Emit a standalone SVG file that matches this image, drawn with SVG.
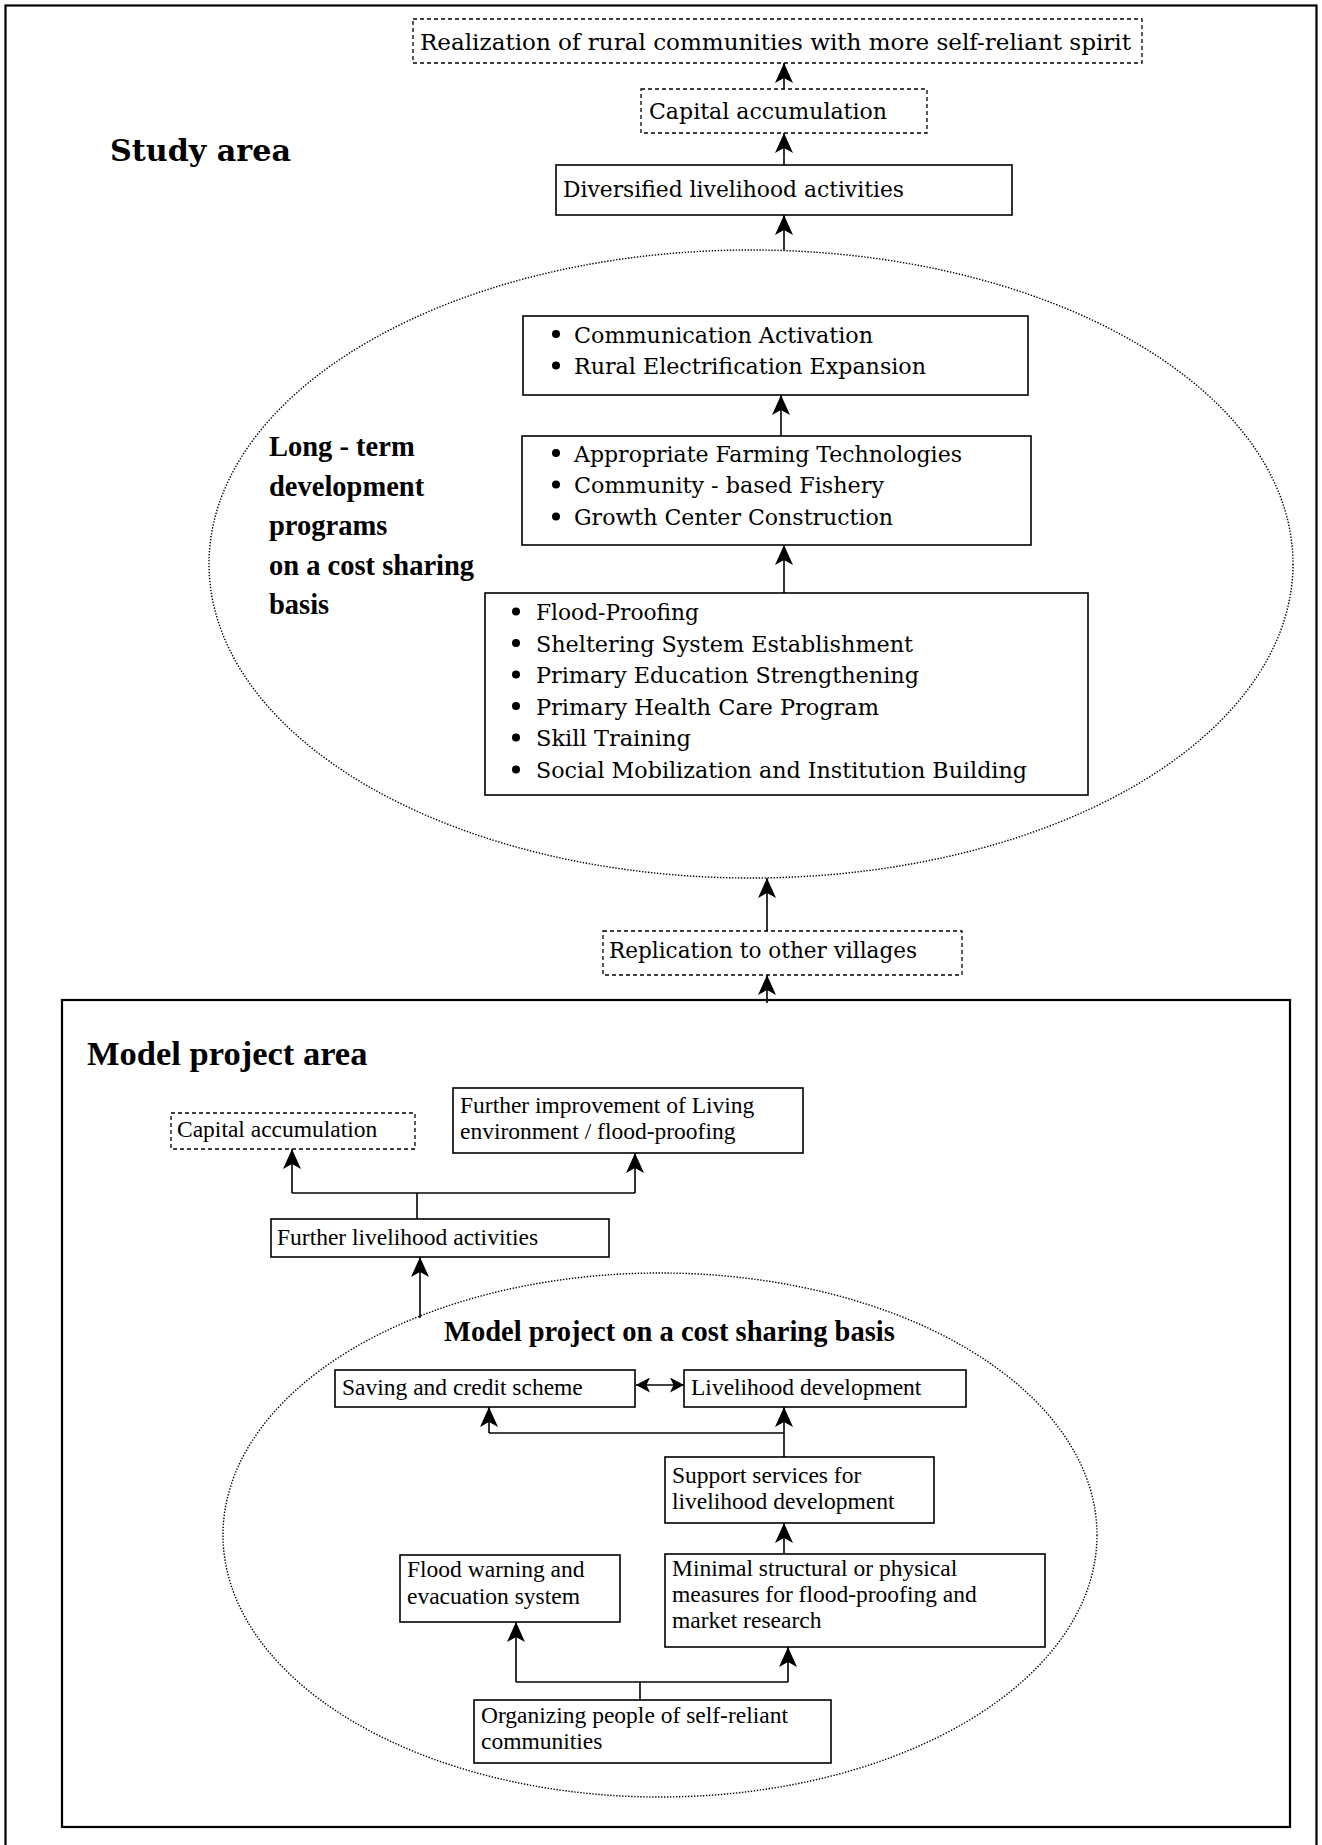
<svg xmlns="http://www.w3.org/2000/svg" width="1322" height="1845" viewBox="0 0 1322 1845">
  <style>
    .frame { fill: none; stroke: #000; stroke-width: 2.2; }
    .box { fill: #fff; stroke: #000; stroke-width: 1.6; }
    .dash { fill: #fff; stroke: #000; stroke-width: 1.3; stroke-dasharray: 4 3; }
    .dots { fill: none; stroke: #000; stroke-width: 1.4; stroke-dasharray: 1.4 1.6; }
    .t1 { font-family: "DejaVu Serif", "Liberation Serif", serif; font-size: 22px; fill: #000; }
    .t2 { font-family: "Liberation Serif", "Times New Roman", serif; font-size: 23.5px; fill: #000; }
    .b { font-family: "Liberation Serif", "Times New Roman", serif; font-weight: bold; font-size: 28.5px; fill: #000; }
    .link { fill: none; stroke: #000; stroke-width: 1.6; }
    .bullet { fill: #000; }
  </style>
  <defs>
    <marker id="head" markerUnits="userSpaceOnUse" viewBox="0 0 20 18" refX="20" refY="9" markerWidth="20" markerHeight="18" orient="auto">
      <path d="M20,9 L0,0 L5,9 L0,18 Z" fill="#000"/>
    </marker>
    <marker id="headSmall" markerUnits="userSpaceOnUse" viewBox="0 0 14 15" refX="14" refY="7.5" markerWidth="14" markerHeight="15" orient="auto-start-reverse">
      <path d="M14,7.5 L0,0 L3.5,7.5 L0,15 Z" fill="#000"/>
    </marker>
  </defs>

  <rect width="1322" height="1845" fill="#fff"/>

  <!-- outer study-area frame (runs past the bottom edge) -->
  <rect class="frame" x="5.5" y="5.5" width="1311" height="1860"/>

  <g id="study-area-label">
    <text x="110" y="160.5" font-family="DejaVu Serif, Liberation Serif, serif" font-weight="bold" font-size="29" textLength="181" lengthAdjust="spacingAndGlyphs">Study area</text>
  </g>

  <!-- long-term programme ellipse -->
  <g id="long-term-programs">
    <ellipse class="dots" cx="751" cy="564" rx="542" ry="314"/>
    <text class="b" x="269" y="456">Long - term</text>
    <text class="b" x="269" y="495.5">development</text>
    <text class="b" x="269" y="535">programs</text>
    <text class="b" x="269" y="574.5">on a cost sharing</text>
    <text class="b" x="269" y="614">basis</text>
  </g>

  <!-- model project frame -->
  <g id="model-project-area">
    <rect class="frame" x="62" y="1000" width="1228" height="827"/>
    <text x="87" y="1065" font-family="Liberation Serif, Times New Roman, serif" font-weight="bold" font-size="34.5">Model project area</text>
  </g>

  <!-- model project ellipse -->
  <g id="model-project-cost-sharing">
    <ellipse class="dots" cx="660" cy="1535" rx="437" ry="262"/>
    <text class="b" x="444" y="1340.5">Model project on a cost sharing basis</text>
  </g>

  <!-- connectors -->
  <g id="connectors">
    <line class="link" x1="784" y1="89" x2="784" y2="63" marker-end="url(#head)"/>
    <line class="link" x1="784" y1="165" x2="784" y2="133" marker-end="url(#head)"/>
    <line class="link" x1="784" y1="250" x2="784" y2="215" marker-end="url(#head)"/>
    <line class="link" x1="781" y1="436" x2="781" y2="395" marker-end="url(#head)"/>
    <line class="link" x1="784" y1="593" x2="784" y2="545" marker-end="url(#head)"/>
    <line class="link" x1="767" y1="931" x2="767" y2="878" marker-end="url(#head)"/>
    <line class="link" x1="767" y1="1003" x2="767" y2="975" marker-end="url(#head)"/>

    <line class="link" x1="417" y1="1219" x2="417" y2="1193"/>
    <line class="link" x1="292" y1="1193" x2="635" y2="1193" stroke-width="2"/>
    <line class="link" x1="292" y1="1193" x2="292" y2="1149" marker-end="url(#head)"/>
    <line class="link" x1="635" y1="1193" x2="635" y2="1153" marker-end="url(#head)"/>
    <line class="link" x1="420" y1="1318" x2="420" y2="1257" marker-end="url(#head)"/>

    <line class="link" x1="636" y1="1385" x2="684" y2="1385" marker-start="url(#headSmall)" marker-end="url(#headSmall)"/>

    <line class="link" x1="784" y1="1457" x2="784" y2="1407" marker-end="url(#head)"/>
    <line class="link" x1="784" y1="1433" x2="489" y2="1433" stroke-width="2"/>
    <line class="link" x1="489" y1="1433" x2="489" y2="1407" marker-end="url(#head)"/>
    <line class="link" x1="784" y1="1553" x2="784" y2="1523" marker-end="url(#head)"/>

    <line class="link" x1="640" y1="1700" x2="640" y2="1682"/>
    <line class="link" x1="516" y1="1682" x2="788" y2="1682" stroke-width="2"/>
    <line class="link" x1="516" y1="1682" x2="516" y2="1622" marker-end="url(#head)"/>
    <line class="link" x1="788" y1="1682" x2="788" y2="1647" marker-end="url(#head)"/>
  </g>

  <!-- study area nodes -->
  <g id="realization">
    <rect class="dash" x="413" y="19" width="729" height="44"/>
    <text class="t1" x="420" y="49.5" textLength="711" lengthAdjust="spacingAndGlyphs">Realization of rural communities with more self-reliant spirit</text>
  </g>
  <g id="capital-accumulation-study">
    <rect class="dash" x="641" y="89" width="286" height="44"/>
    <text class="t1" x="649" y="119.3" textLength="238" lengthAdjust="spacingAndGlyphs">Capital accumulation</text>
  </g>
  <g id="diversified-livelihood">
    <rect class="box" x="556" y="165" width="456" height="50"/>
    <text class="t1" x="563" y="196.5" textLength="341" lengthAdjust="spacingAndGlyphs">Diversified livelihood activities</text>
  </g>
  <g id="communication-electrification">
    <rect class="box" x="523" y="316" width="505" height="79"/>
    <circle class="bullet" cx="556" cy="334" r="4"/>
    <text class="t1" x="574" y="342.5" textLength="299" lengthAdjust="spacingAndGlyphs">Communication Activation</text>
    <circle class="bullet" cx="556" cy="365.5" r="4"/>
    <text class="t1" x="574" y="374" textLength="352" lengthAdjust="spacingAndGlyphs">Rural Electrification Expansion</text>
  </g>
  <g id="farming-fishery-growth">
    <rect class="box" x="522" y="436" width="509" height="109"/>
    <circle class="bullet" cx="556" cy="453" r="4"/>
    <text class="t1" x="574" y="461.5" textLength="388" lengthAdjust="spacingAndGlyphs">Appropriate Farming Technologies</text>
    <circle class="bullet" cx="556" cy="484.5" r="4"/>
    <text class="t1" x="574" y="493" textLength="310" lengthAdjust="spacingAndGlyphs">Community - based Fishery</text>
    <circle class="bullet" cx="556" cy="516.5" r="4"/>
    <text class="t1" x="574" y="525" textLength="319" lengthAdjust="spacingAndGlyphs">Growth Center Construction</text>
  </g>
  <g id="basic-programs">
    <rect class="box" x="485" y="593" width="603" height="202"/>
    <circle class="bullet" cx="516" cy="611.5" r="4"/>
    <text class="t1" x="536" y="620" textLength="163" lengthAdjust="spacingAndGlyphs">Flood-Proofing</text>
    <circle class="bullet" cx="516" cy="643" r="4"/>
    <text class="t1" x="536" y="651.5" textLength="377" lengthAdjust="spacingAndGlyphs">Sheltering System Establishment</text>
    <circle class="bullet" cx="516" cy="674.5" r="4"/>
    <text class="t1" x="536" y="683" textLength="383" lengthAdjust="spacingAndGlyphs">Primary Education Strengthening</text>
    <circle class="bullet" cx="516" cy="706" r="4"/>
    <text class="t1" x="536" y="714.5" textLength="343" lengthAdjust="spacingAndGlyphs">Primary Health Care Program</text>
    <circle class="bullet" cx="516" cy="737.5" r="4"/>
    <text class="t1" x="536" y="746" textLength="155" lengthAdjust="spacingAndGlyphs">Skill Training</text>
    <circle class="bullet" cx="516" cy="769.5" r="4"/>
    <text class="t1" x="536" y="778" textLength="491" lengthAdjust="spacingAndGlyphs">Social Mobilization and Institution Building</text>
  </g>
  <g id="replication">
    <rect class="dash" x="603" y="931" width="359" height="44"/>
    <text class="t1" x="609" y="957.5" textLength="308" lengthAdjust="spacingAndGlyphs">Replication to other villages</text>
  </g>

  <!-- model project nodes -->
  <g id="capital-accumulation-model">
    <rect class="dash" x="171" y="1113" width="244" height="36"/>
    <text class="t2" x="177" y="1137">Capital accumulation</text>
  </g>
  <g id="further-improvement">
    <rect class="box" x="453" y="1088" width="350" height="65"/>
    <text class="t2" x="460" y="1112.5">Further improvement of Living</text>
    <text class="t2" x="460" y="1138.5">environment / flood-proofing</text>
  </g>
  <g id="further-livelihood">
    <rect class="box" x="271" y="1219" width="338" height="38"/>
    <text class="t2" x="277" y="1245">Further livelihood activities</text>
  </g>
  <g id="saving-credit">
    <rect class="box" x="335" y="1370" width="300" height="37"/>
    <text class="t2" x="342" y="1395">Saving and credit scheme</text>
  </g>
  <g id="livelihood-development">
    <rect class="box" x="684" y="1370" width="282" height="37"/>
    <text class="t2" x="691" y="1395">Livelihood development</text>
  </g>
  <g id="support-services">
    <rect class="box" x="665" y="1457" width="269" height="66"/>
    <text class="t2" x="672" y="1483">Support services for</text>
    <text class="t2" x="672" y="1508.5">livelihood development</text>
  </g>
  <g id="flood-warning">
    <rect class="box" x="400" y="1555" width="220" height="67"/>
    <text class="t2" x="407" y="1577">Flood warning and</text>
    <text class="t2" x="407" y="1603.5">evacuation system</text>
  </g>
  <g id="minimal-measures">
    <rect class="box" x="665" y="1554" width="380" height="93"/>
    <text class="t2" x="672" y="1576">Minimal structural or physical</text>
    <text class="t2" x="672" y="1602">measures for flood-proofing and</text>
    <text class="t2" x="672" y="1627.5">market research</text>
  </g>
  <g id="organizing-people">
    <rect class="box" x="474" y="1700" width="357" height="63"/>
    <text class="t2" x="481" y="1722.5">Organizing people of self-reliant</text>
    <text class="t2" x="481" y="1749">communities</text>
  </g>
</svg>
